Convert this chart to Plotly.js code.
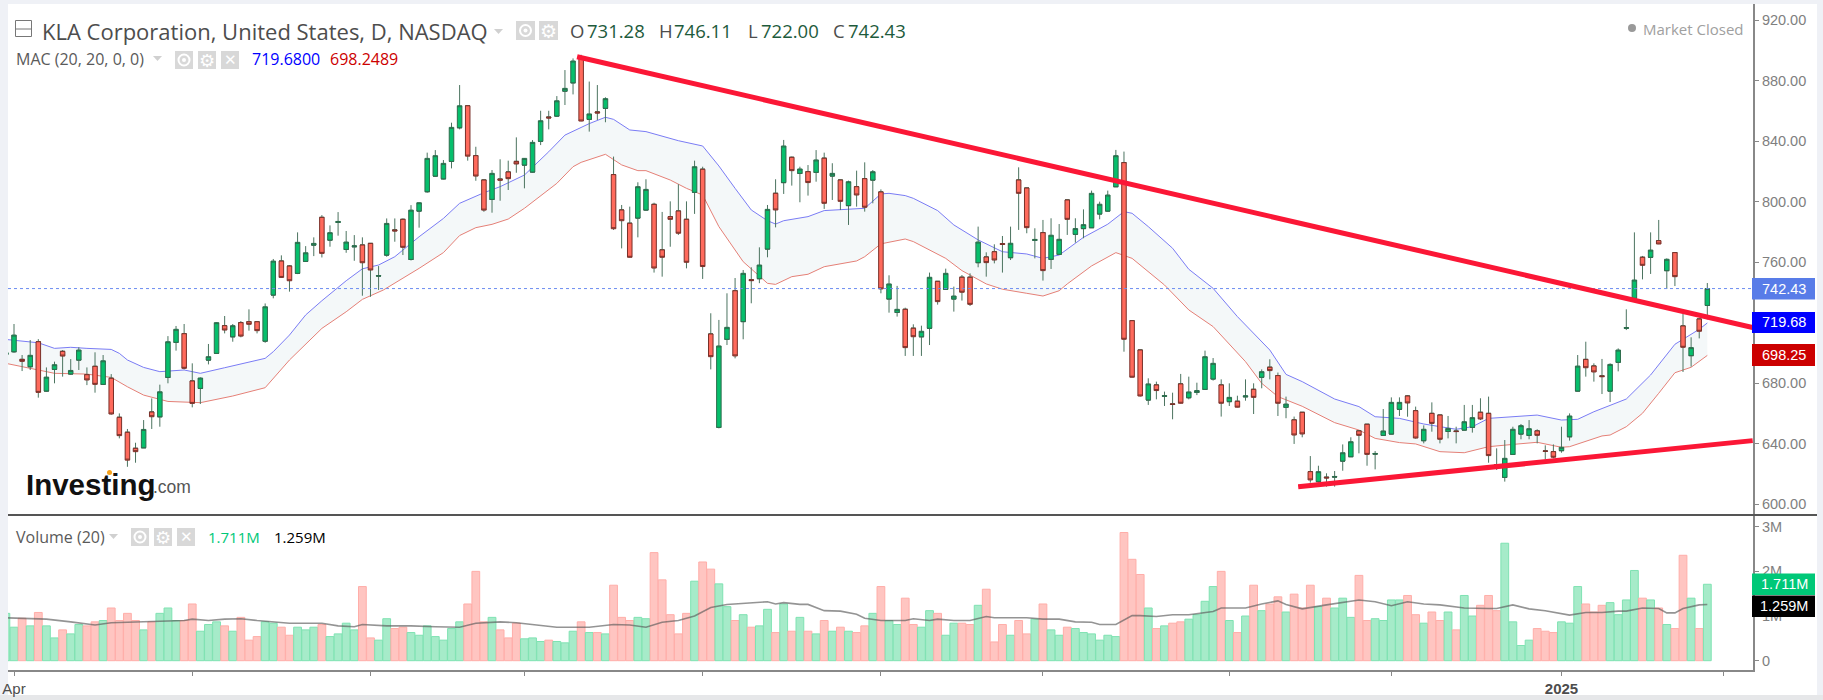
<!DOCTYPE html>
<html>
<head>
<meta charset="utf-8">
<title>KLA Corporation</title>
<script src="https://cdn.plot.ly/plotly-3.0.1.min.js"></script>
<style>
    html, body { margin: 0; padding: 0; background: #eff1f6; }
    #chart { width: 1823px; height: 700px; }
</style>
</head>
<body>
<div id="chart"></div>
<script>
// --- Data (one entry per session) ---
const opens = [699,700.7,695.6,690.8,707.3,674.7,689,700.9,686,695.2,
    685.5,691,679.1,683.1,657.3,647.4,636.8,637.2,660.8,657.7,
    683.7,706.9,712.6,681.3,676.4,695.2,699.6,717.9,710.6,719.9,
    720.5,720.5,707.7,738.2,760.6,757.3,752.5,760.4,771.2,789.5,
    774.5,786.2,768.3,770.1,771.2,772.3,750.7,764.6,781.2,788.2,
    761.7,793.7,806.5,816.8,815,826.5,848.8,863.3,830.3,814.2,
    801.4,814.8,819.5,826.5,824.1,819.5,839.8,855.8,856.5,873,
    878.5,895.8,854.3,859.2,861.6,817.8,794.4,785.6,789.1,794.4,
    798.1,768,790,793.7,788.2,806.1,821.3,712.4,650.7,708.9,
    741,720.6,748.3,749,768.6,805.4,812.5,829.2,818.6,819.7,
    819.3,828.6,816.9,814.2,797.3,809.8,815.1,814.2,806.3,735.6,
    726.7,728.7,716.2,710.6,716.2,747.2,741.9,735.6,749.9,749.9,
    759.6,763.3,766.8,772.2,762.9,814.2,808.9,774.3,779.4,761.8,
    765.1,801,778.3,782.1,782.7,791.8,793.7,809.8,825.7,721.2,
    701.8,668.8,678.7,671.2,666.2,679.4,670.3,673.8,675.8,682.7,
    678.7,667.7,667.9,670.9,675.8,683.8,690.4,684.9,664,655.6,
    660.6,621.4,614.8,617.7,617.8,628.4,631.3,648.3,652.7,633,
    645.4,646.3,662.6,671.4,661.7,641.9,659.9,658.8,648,648.2,
    648.9,650.7,660.6,659.9,626,617.6,632.8,646.3,645.4,648.3,
    635.1,634.6,635.3,644.5,674.7,695.6,691.2,684.7,674.7,693.7,
    716.2,736,763.1,763.1,774.1,754.3,766.2,717.7,698.1,722.3,731.28];
const highs = [705,719,698.5,708.4,709,690.3,694.1,701.8,695.8,703.6,
    690.3,700.3,698.5,685.9,659.9,649.6,640.5,655.5,669.8,678.9,
    711,717.7,719,693,683.7,705.8,720,724.3,719,721,
    728.7,721,732.6,762,764.4,758,779.6,770.5,776.3,791,
    784.2,793,780.5,777.8,776.3,772.5,757.3,788.8,788.8,788.8,
    797.6,799.3,832.3,834,827.4,852.1,877,863.8,836.2,814.3,
    820.8,827.9,827,842.4,828.6,840.6,860,860,869.7,886.9,
    894.6,897,879.3,877,868.9,829.7,797.7,796.6,812.7,814.7,
    799.2,793.1,800.1,811.4,800.1,827,823,726.1,721.7,739.3,
    749.4,754.7,756.5,769.7,797.7,814.7,840.7,829.7,823,824.1,
    834,832.3,825.3,814.3,813.8,820.4,825.9,820.8,808,751.2,
    744.2,729.8,718.8,717.9,753,747.3,755.6,743.7,751.4,752.5,
    783.4,766.4,771.7,777.2,783.4,822.6,809,782.3,787.8,788.9,
    785.1,801.1,788.9,794.8,807.2,799.9,807.2,834.1,833,721.3,
    701.9,683.1,680.9,674.3,673.6,686,684.2,680.2,701.4,696.5,
    682.4,679.8,671.6,682.4,679.8,689,695.7,686.9,671,657.8,
    660.7,631.7,625.3,620.3,621.8,639.4,644.1,648.9,652.8,635,
    662.8,670.5,670.5,672,664.4,652,667.2,658.9,658.2,651.1,
    665.5,665.5,669.9,671,636.8,642.3,651.1,652.9,655.5,649.4,
    638.8,639.4,651.1,659.9,698.5,707.3,693,695.9,693,702.9,
    728.7,779.6,764,779.6,787.8,762.4,766.3,725.6,710.2,722.8,746.11];
const lows = [698,700,687.9,688.6,670.3,674.2,679.8,684.2,685.3,688.6,
    678.6,673.6,679,659,643.4,624.6,627.3,637,649.6,651.1,
    679.8,701.4,689,663.9,666.1,692.3,699.5,712.8,707.3,710.2,
    714.6,712.8,706.6,736,749.6,740.4,752,760,763.9,763,
    770.1,777.4,766.1,760.8,737.7,737,741.5,763.5,773.4,764.6,
    761,782.7,805.8,816.4,814.6,821.9,847.7,827,813.7,793.2,
    792.6,800.5,807.6,819,808.7,819,837.3,847.7,856,863.8,
    870.8,853,846.2,853.9,852.4,781.2,769,763,776.3,794,
    753,750.3,770.1,777.9,755.8,791.8,748.8,689,650,705.1,
    696.3,708.9,732.7,746,763.1,782.9,805,810.5,799.5,803.9,
    813.1,795.1,801,794.4,784.5,796.6,793.3,798.8,739.3,726.5,
    723.9,697.9,697.9,697.9,705.1,731.8,741.8,727.2,734.5,730.9,
    756.5,750.3,759.1,753,761.3,781.2,779,762.4,747.7,755.4,
    765,777.9,772.8,775.7,782.5,788.2,793.3,809.7,700.7,683.7,
    671,665.5,669.2,664.8,656,666.5,669.2,672,675.7,681.6,
    657.8,664.8,663.9,668.3,659.5,676.5,682.4,658.2,656.7,639.7,
    644.1,614.1,614.1,611.5,611.5,622,631.2,633.5,625.3,622.9,
    645,646.2,658.2,657.7,643.2,640.1,647.8,640.1,643.4,640.1,
    648.8,647.2,655.5,627.3,622.5,614.8,632.7,642.8,642.8,640.1,
    629.5,630.2,633.9,641.9,674.6,684.2,680.9,672.7,667.4,687.7,
    715,734.9,748.5,752.1,771.8,742.2,744.1,687.3,690.8,709.5,722];
const closes = [700,711.7,694.3,698.3,673.8,683.9,692.1,697.8,688.3,701.8,
    682,679.1,694.7,659.5,645.2,629,634.6,649.3,657.7,674.2,
    707.3,715.5,689.7,666.5,683.3,697.4,719.9,715,717.9,711,
    718.8,714.6,730.4,760.6,749.8,747.6,773,766.1,772.3,765.7,
    779.4,786.8,773.2,770.7,759.5,754.7,751,785.5,780.5,769.7,
    794.3,799.2,828.5,830.3,825.2,849,863.3,830,816.8,794.3,
    818.6,814.1,815.1,824.8,828.5,839.1,853.4,855.2,866.6,874.8,
    892.9,853.2,857.9,858.5,868,782,787.3,763.1,809.8,808,
    756,763.1,788.2,779,759.8,823,757,697.4,704.5,716.8,
    697.9,752.5,747.7,758,794.8,794.4,836.7,820.4,821.5,812.5,
    827.5,798.8,818.6,800.1,813.1,804.3,796.2,819.7,742.2,745.5,
    728.7,703.4,710.6,714.2,749.9,733.8,752.5,737.5,740,732,
    773.2,759.6,761.3,771.6,772.4,805.4,782.7,774.9,754.3,777.7,
    775,788.2,782.1,784.7,805.4,798.2,804.3,830.3,708.9,683.8,
    671.4,679.4,675,671.6,665.8,666.6,674.1,675,697.4,693,
    666.6,670.5,664,671.5,670.5,687.5,688.2,666.6,666.1,645.6,
    646.3,615.9,621.4,617.2,618.2,633.9,641.2,645.4,632.8,633.4,
    648.3,667.2,667.2,666.8,643.6,649.4,653.3,642.8,650,647.9,
    654.4,657.1,656.2,632,625.6,630.2,649.4,651.8,649.8,645.4,
    634.8,630.9,637.5,658.2,691.2,690.1,687.3,684.2,692.3,701.8,
    716.6,748.1,757.8,767.9,771.9,761.8,750.3,703.6,703.4,714.2,742.43];
const volumes = [1.06,.75,.95,.78,1.08,.78,.51,.69,.60,.81,
    .78,.87,.90,1.18,.90,1.06,.90,.69,.87,1.06,
    1.18,.90,.90,1.27,.66,.81,.87,.78,.66,.97,
    .46,.54,.87,.84,.75,.57,.75,.69,.75,.81,
    .54,.60,.84,.69,1.66,.51,.46,.94,.72,.75,
    .63,.57,.78,.54,.46,.72,.87,1.27,2.00,.87,
    .97,.69,.51,.84,.49,.51,.43,.46,.43,.40,
    .66,.87,.63,.63,.60,1.69,.97,.90,.97,.94,
    2.42,1.81,1.03,.60,1.06,1.78,2.21,2.05,1.72,1.21,
    .90,1.03,.75,.78,1.15,.63,1.27,.66,.97,.66,
    .60,.90,.66,.75,.66,.63,.78,1.06,1.66,.90,
    .81,1.40,.81,.75,1.12,1.06,.57,.84,.84,.81,
    1.24,1.60,.42,.81,.57,.90,.60,.93,1.27,.69,
    .57,.75,.72,.63,.60,.46,.57,.54,2.87,2.27,
    1.93,1.18,.72,.78,.84,.87,.93,1.03,1.33,1.66,
    2.00,.90,.63,1.00,1.69,1.12,1.27,1.43,1.09,1.49,
    1.18,1.69,1.21,1.40,1.18,1.40,.97,1.91,.90,.94,
    .90,1.36,1.36,1.46,1.03,.84,1.09,.90,1.09,.69,
    1.46,1.00,1.24,1.46,1.12,2.63,.87,.34,.46,.72,
    .66,.63,.87,.84,1.66,1.27,1.09,1.24,1.30,1.03,
    1.36,2.02,1.40,1.36,1.18,.81,.72,2.36,1.40,.72,1.711];

const macUpperX = [0,4,6,8,10,13,14,15,17,19,22,24,27,30,32,33,35,37,39,42,44,46,48,51,54,56,59,61,64,67,69,72,74,75,77,79,83,86,88,90,92,94,95,96,99,101,106,108,109,111,112,115,117,120,123,126,128,130,133,136,138,139,141,144,146,149,152,156,158,160,164,167,169,172,175,179,181,183,186,189,192,194,196,200,203,206,209,210];
const macUpper = [708.8,706.6,702.9,703.6,702.9,702.2,699.6,695.2,690.3,687.5,688.6,686.4,690.1,693.6,696.3,700.7,711.7,725,734.4,747.6,755.5,758,763.5,776.7,788.8,798.8,805.8,809.8,817.5,832.9,843.9,851.5,855.7,854.3,847.3,846.2,840.2,836.7,823.5,808.7,794.4,787.3,785.1,787.3,790,794,795.5,805,805.4,803.9,802.1,794,784.5,774.6,766.8,765.3,762.4,764.6,776.3,785,793.3,792.2,783.4,769.1,755.2,742.6,723.9,701.8,685.7,680.9,669.4,664.4,657.7,656.6,652.9,649.4,651.1,656.6,657.7,658.8,655.5,656,661,669.4,685.3,705.6,715.5,719.68];
const macLowerX = [0,4,6,10,13,15,17,20,24,28,32,35,39,42,44,46.6,51,54,56,58,60,62,64,68,70,71,74,76,78,79,82,84,86,88,91,94,95,97,99,101,103,105,106,108,111,112,116,118,121,123,126,128,130,131,134,137,139,143,146,149,153,155,157,160,164,167,169,172,174,177,180,183,186,189,192,193,197,198,200,202,204,206,208,210];
const macLower = [693,688.6,686.4,685.9,683.7,677.5,672,667.8,667,671.4,676.9,695.2,716.1,727.1,735.3,741.5,755.8,766.2,777.5,782.7,784.9,788.4,795.5,812,823,825.9,831.2,824.2,820.4,820.4,814.2,808.7,804.3,783.4,760.2,745.9,745.2,750.3,751.9,756.9,758.7,760.7,763.5,772,775.2,773.5,762.4,754.3,745.5,742,739.3,737.5,741,745.5,757.4,766.2,762.4,744.8,728.3,717.3,694.1,679.8,671,664.6,653.8,648.9,643.4,640.6,639.7,634.6,633.9,637.9,639.4,640.8,637.5,637.9,645,645.6,651.1,660,673.2,686.8,690.4,698.25];
const volMaX = [0,5,8,11,13,16,20,22,23,25,27,29,31,33,35,39,41,43,44,47,50,53,56,58,61,63,65,68,72,75,77,79,81,83,85,87,89,92,94,95,96,98,99,101,103,105,106,108,111,112,114,115,117,119,121,122,126,128,130,132,134,135,137,139,140,142,144,146,148,149,150,153,155,157,158,160,163,165,167,169,171,173,175,177,180,183,184,186,188,190,193,195,197,199,200,202,204,205,206,207,209,210];
const volMa = [.96,.93,.87,.80,.85,.87,.90,.90,.93,.90,.93,.94,.90,.87,.84,.84,.78,.76,.81,.78,.78,.76,.75,.84,.87,.85,.81,.75,.75,.81,.80,.75,.86,.90,1.00,1.19,1.26,1.30,1.32,1.27,1.30,1.26,1.26,1.12,1.11,1.04,.95,.90,.90,.94,.90,.93,.90,.90,.99,.96,.96,.93,.93,.87,.86,.81,.81,1.01,1.01,.99,1.03,1.03,1.07,1.10,1.18,1.18,1.27,1.34,1.26,1.16,1.25,1.30,1.36,1.32,1.23,1.32,1.27,1.25,1.18,1.17,1.17,1.25,1.16,1.12,1.02,1.08,1.08,1.11,1.11,1.18,1.17,1.07,1.07,1.17,1.25,1.259];

const lastPrice = 742.43;
const upperTrendX = [70.5, 215.6];
const upperTrendY = [895.7, 716.7];
const lowerTrendX = [159.5, 215.6];
const lowerTrendY = [611.4, 641.9];

const monthTickVals = [1,23,45,64,86,108,128,151,171,192,212];
const monthTickText = ['Apr','','','','','','','','','<b>2025</b>',''];
const priceTicks = [600,640,680,720,760,800,840,880,920];
const volumeTicks = [0,1,2,3];
const volumeTickText = ['0','1M','2M','3M'];

// --- Pixel helpers ---
const W = 1823, H = 700;
const PLOT_L = 8, PLOT_R = 1753;
const px = x => x / W;
const py = y => 1 - y / H;
const idx = x => (x - 5.9) / 8.102;
const price = y => 600 + (504 - y) / 1.5125;
const vol = y => (660.7 - y) / 44.67;

const FONT = 'Open Sans, Noto Sans, sans-serif';
const AXIS = 'Liberation Sans, Arial, sans-serif';
const GREY = '#888888';

const sessions = opens.map((_, i) => i);
const isUp = closes.map((c, i) => c >= opens[i]);

// --- Shapes and texts ---
const shapes = [];
const annotations = [];

function rect(x0, y0, x1, y1, fill, line) {
    shapes.push({
        type: 'rect', xref: 'paper', yref: 'paper', layer: 'above',
        x0: px(x0), x1: px(x1), y0: py(y0), y1: py(y1),
        fillcolor: fill, line: line || { width: 0 }
    });
}

function label(x, y, text, size, color, family, anchor) {
    annotations.push({
        xref: 'paper', yref: 'paper', x: px(x), y: py(y), text: text,
        showarrow: false, xanchor: anchor || 'left', yanchor: 'middle', borderpad: 0,
        font: { size: size, color: color, family: family || FONT }
    });
}

function arrow(x, y) {
    shapes.push({
        type: 'path', xref: 'paper', yref: 'paper', layer: 'above',
        path: `M ${px(x)} ${py(y - 2)} L ${px(x + 9)} ${py(y - 2)} L ${px(x + 4.5)} ${py(y + 3)} Z`,
        fillcolor: '#d0d0d0', line: { width: 0 }
    });
}

function iconBox(x, y, s) {
    rect(x, y, x + s, y + s, '#d8d8d8');
}

function eyeIcon(x, y, s) {
    iconBox(x, y, s);
    const cx = x + s / 2, cy = y + s / 2;
    shapes.push({
        type: 'circle', xref: 'paper', yref: 'paper', layer: 'above',
        x0: px(cx - 5.5), x1: px(cx + 5.5), y0: py(cy - 5.5), y1: py(cy + 5.5),
        line: { color: '#ffffff', width: 2 }
    });
    shapes.push({
        type: 'circle', xref: 'paper', yref: 'paper', layer: 'above',
        x0: px(cx - 2), x1: px(cx + 2), y0: py(cy - 2), y1: py(cy + 2),
        fillcolor: '#ffffff', line: { width: 0 }
    });
}

function gearIcon(x, y, s) {
    iconBox(x, y, s);
    label(x + s / 2, y + s / 2, '\u2699', s, '#ffffff', 'DejaVu Sans', 'center');
}

function closeIcon(x, y, s) {
    iconBox(x, y, s);
    label(x + s / 2, y + s / 2, '\u2715', s - 3, '#ffffff', 'DejaVu Sans', 'center');
}

function priceTag(y0, y1, text, fill) {
    rect(1752, y0, 1815, y1, fill);
    label(1784, (y0 + y1) / 2, text, 14.5, '#ffffff', AXIS, 'center');
}

// chart frame
shapes.push({
    type: 'rect', xref: 'paper', yref: 'paper', layer: 'below',
    x0: px(8), x1: px(1817), y0: py(4), y1: py(695),
    fillcolor: '#ffffff', line: { width: 0 }
});
shapes.push({
    type: 'rect', xref: 'paper', yref: 'paper', layer: 'below',
    x0: 0, x1: 1, y0: 0, y1: py(695),
    fillcolor: '#e6e7e9', line: { width: 0 }
});

// pane divider, last price line, trend lines
shapes.push({
    type: 'line', xref: 'paper', yref: 'paper', layer: 'above',
    x0: px(8), x1: px(1817), y0: py(515), y1: py(515),
    line: { color: '#555555', width: 2 }
});
shapes.push({
    type: 'line', xref: 'x', yref: 'y', layer: 'above',
    x0: idx(PLOT_L), x1: idx(PLOT_R), y0: lastPrice, y1: lastPrice,
    line: { color: '#6b8cf0', width: 1, dash: 'dot' }
});
[[upperTrendX, upperTrendY], [lowerTrendX, lowerTrendY]].forEach(([tx, ty]) => {
    shapes.push({
        type: 'line', xref: 'x', yref: 'y', layer: 'above',
        x0: tx[0], x1: tx[1], y0: ty[0], y1: ty[1],
        line: { color: '#fb1736', width: 5 }
    });
});

// header row
rect(15.5, 20.5, 31.5, 36.5, 'rgba(0,0,0,0)', { color: '#777777', width: 1 });
shapes.push({
    type: 'line', xref: 'paper', yref: 'paper', layer: 'above',
    x0: px(15.5), x1: px(31.5), y0: py(29), y1: py(29), line: { color: '#777777', width: 1 }
});
label(41, 31, 'KLA Corporation, United States, D, NASDAQ', 22, '#4d4d4d');
arrow(494, 31);
eyeIcon(516, 21, 19);
gearIcon(539, 21, 19);
label(569, 31, 'O', 18.5, '#4d4d4d');
label(586, 31, '731.28', 18.5, '#1e5b3c');
label(658, 31, 'H', 18.5, '#4d4d4d');
label(673, 31, '746.11', 18.5, '#1e5b3c');
label(747, 31, 'L', 18.5, '#4d4d4d');
label(760, 31, '722.00', 18.5, '#1e5b3c');
label(832, 31, 'C', 18.5, '#4d4d4d');
label(847, 31, '742.43', 18.5, '#1e5b3c');
shapes.push({
    type: 'circle', xref: 'paper', yref: 'paper', layer: 'above',
    x0: px(1628), x1: px(1636), y0: py(24), y1: py(32),
    fillcolor: '#999999', line: { width: 0 }
});
label(1642, 29, 'Market Closed', 15, '#a0a0a0');

// indicator row
label(15, 59, 'MAC (20, 20, 0, 0)', 16, '#5a5a5a');
arrow(153, 58);
eyeIcon(175, 51, 18);
gearIcon(198, 51, 18);
closeIcon(221, 51, 18);
label(251, 59, '719.6800', 16, '#0000ff');
label(329, 59, '698.2489', 16, '#cc0000');

// volume row
label(15, 537, 'Volume (20)', 16, '#5a5a5a');
arrow(109, 536);
eyeIcon(131, 528, 18);
gearIcon(154, 528, 18);
closeIcon(177, 528, 18);
label(207, 537, '1.711M', 15, '#00c878');
label(273, 537, '1.259M', 15, '#000000');

// logo
label(25, 484, '<b>Investing</b>', 29.5, '#111111', AXIS);
label(152, 487, '.com', 17.5, '#555555', AXIS);
shapes.push({
    type: 'circle', xref: 'paper', yref: 'paper', layer: 'above',
    x0: px(107), x1: px(112), y0: py(470), y1: py(475),
    fillcolor: '#f7a21b', line: { width: 0 }
});

// price tags
priceTag(278, 299.5, '742.43', '#587ce8');
priceTag(312, 333, '719.68', '#0000ff');
priceTag(344, 366, '698.25', '#cc0000');
priceTag(573.5, 595, '1.711M', '#00c878');
priceTag(595.5, 617, '1.259M', '#000000');

// --- Traces ---
const traces = [
    {
        type: 'bar', x: sessions, y: volumes, xaxis: 'x', yaxis: 'y2', width: 0.96,
        marker: {
            color: isUp.map(u => u ? '#a6ebc9' : '#ffc5c1'),
            line: { color: isUp.map(u => u ? '#7fe2b2' : '#ffaea9'), width: 1 }
        },
        hoverinfo: 'skip'
    },
    {
        type: 'scatter', mode: 'lines', x: volMaX, y: volMa, xaxis: 'x', yaxis: 'y2',
        line: { color: 'rgba(90,90,90,0.65)', width: 1.6 }, hoverinfo: 'skip'
    },
    {
        type: 'scatter', mode: 'lines', x: macLowerX, y: macLower, xaxis: 'x', yaxis: 'y',
        line: { color: '#e58077', width: 1 }, hoverinfo: 'skip'
    },
    {
        type: 'scatter', mode: 'lines', x: macUpperX, y: macUpper, xaxis: 'x', yaxis: 'y',
        fill: 'tonexty', fillcolor: '#f4f8f9',
        line: { color: '#7a7cf5', width: 1 }, hoverinfo: 'skip'
    },
    // wicks
    {
        type: 'candlestick', x: sessions, xaxis: 'x', yaxis: 'y3',
        open: opens, close: opens, high: highs, low: lows, whiskerwidth: 0,
        increasing: { line: { color: '#4c7460', width: 1 } },
        decreasing: { line: { color: '#4c7460', width: 1 } },
        hoverinfo: 'skip'
    },
    // bodies
    {
        type: 'candlestick', x: sessions, xaxis: 'x', yaxis: 'y3',
        open: opens, close: closes,
        high: opens.map((o, i) => Math.max(o, closes[i])),
        low: opens.map((o, i) => Math.min(o, closes[i])),
        whiskerwidth: 0,
        increasing: { fillcolor: '#06bf6c', line: { color: '#2d6b4c', width: 1 } },
        decreasing: { fillcolor: '#ff6a5c', line: { color: '#7a3029', width: 1 } },
        hoverinfo: 'skip'
    }
];

// --- Layout ---
const priceRange = [price(515), price(4)];
const tickFont = { size: 14.5, color: '#7f7f7f', family: AXIS };

const layout = {
    width: W,
    height: H,
    margin: { l: 0, r: 0, t: 0, b: 0 },
    paper_bgcolor: '#eff1f6',
    plot_bgcolor: 'rgba(0,0,0,0)',
    showlegend: false,
    boxmode: 'overlay',
    boxgap: 0.2,
    xaxis: {
        domain: [px(PLOT_L), px(PLOT_R)],
        range: [idx(PLOT_L), idx(PLOT_R)],
        anchor: 'y2',
        rangeslider: { visible: false },
        showgrid: false, zeroline: false,
        showline: true, linecolor: GREY, linewidth: 2,
        ticks: 'outside', ticklen: 4, tickcolor: GREY, tickwidth: 1,
        tickmode: 'array', tickvals: monthTickVals, ticktext: monthTickText,
        tickfont: { size: 15, color: '#4d4d4d', family: AXIS }
    },
    yaxis: {
        domain: [py(515), py(4)],
        range: priceRange,
        side: 'right', anchor: 'x',
        showgrid: false, zeroline: false,
        showline: true, linecolor: GREY, linewidth: 2,
        ticks: 'outside', ticklen: 4, tickcolor: GREY, tickwidth: 1,
        tickmode: 'array', tickvals: priceTicks, ticktext: priceTicks.map(t => t.toFixed(2)),
        tickfont: tickFont
    },
    yaxis3: {
        overlaying: 'y', side: 'right', anchor: 'x',
        range: priceRange, visible: false, showgrid: false, zeroline: false
    },
    yaxis2: {
        domain: [py(670), py(516)],
        range: [vol(670), vol(516)],
        side: 'right', anchor: 'x',
        showgrid: false, zeroline: false,
        showline: true, linecolor: GREY, linewidth: 2,
        ticks: 'outside', ticklen: 4, tickcolor: GREY, tickwidth: 1,
        tickmode: 'array', tickvals: volumeTicks, ticktext: volumeTickText,
        tickfont: tickFont
    },
    shapes: shapes,
    annotations: annotations
};

Plotly.newPlot('chart', traces, layout, { displayModeBar: false, staticPlot: true });
</script>
</body>
</html>
